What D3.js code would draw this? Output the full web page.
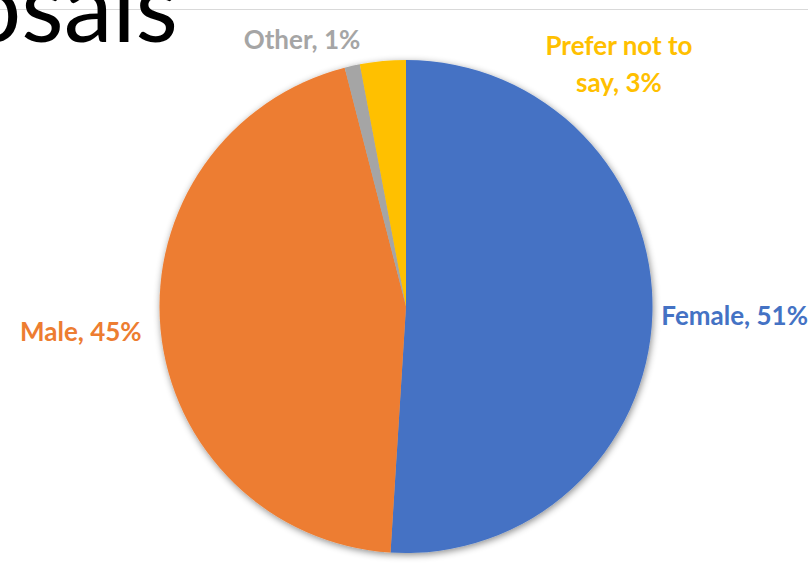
<!DOCTYPE html>
<html>
<head>
<meta charset="utf-8">
<script src="https://cdn.jsdelivr.net/npm/d3@7"></script>
<style>
  html, body { margin: 0; padding: 0; background: #fff; overflow: hidden; }
  svg { display: block; }
</style>
</head>
<body>
<div id="chart"></div>
<script>
// Data
const categories = ["Female", "Male", "Other", "Prefer not to say"];
const values = [51, 45, 1, 3];
const labelLines = [
  ["Female, 51%"],
  ["Male, 45%"],
  ["Other, 1%"],
  ["Prefer not to", "say, 3%"]
];
const titleText = "Proposals";

const colors = ["#4472C4", "#ED7D31", "#A5A5A5", "#FFC000"];

const fullWidth = 808;
const fullHeight = 577;
const cx = 406;
const cy = 306.5;
const radius = 246.5;

const svg = d3.select("#chart")
  .append("svg")
  .attr("width", fullWidth)
  .attr("height", fullHeight);

// Shadow
const defs = svg.append("defs");
const shadow = defs.append("filter")
  .attr("id", "pieShadow")
  .attr("x", "-10%").attr("y", "-10%")
  .attr("width", "120%").attr("height", "120%");
shadow.append("feDropShadow")
  .attr("dx", 1)
  .attr("dy", 2)
  .attr("stdDeviation", 3.5)
  .attr("flood-color", "#000")
  .attr("flood-opacity", 0.45);

// Slide rule line behind the title
svg.append("line")
  .attr("x1", 0).attr("x2", fullWidth)
  .attr("y1", 9.5).attr("y2", 9.5)
  .attr("stroke", "#d9d9d9")
  .attr("stroke-width", 1);

// Title (cut off at the left like the slide)
svg.append("text")
  .attr("x", 178)
  .attr("y", 42)
  .attr("text-anchor", "end")
  .style("font-family", "Lato, 'Open Sans', sans-serif")
  .style("font-weight", 400)
  .style("font-size", "98px")
  .style("fill", "#000")
  .text(titleText);

// Pie
const pie = d3.pie().sort(null).value(d => d);
const arcs = pie(values);

const arc = d3.arc().innerRadius(0).outerRadius(radius);

const g = svg.append("g")
  .attr("transform", `translate(${cx},${cy})`);

g.append("g")
  .attr("filter", "url(#pieShadow)")
  .selectAll("path")
  .data(arcs)
  .join("path")
  .attr("d", arc)
  .attr("fill", (d, i) => colors[i]);

// Labels: start from an outer arc, then nudge like the original best-fit layout
const labelArc = d3.arc().innerRadius(radius + 12).outerRadius(radius + 12);
const nudge = {
  "Female": { dx: -3, dy: 0, anchor: "start" },
  "Male": { dx: -7, dy: 0, anchor: "end" },
  "Other": { dx: 0, dy: 0, anchor: "middle" },
  "Prefer not to say": { dx: 0, dy: 0, anchor: "middle" }
};
const fixedSpots = {
  "Other": [302 - cx, 39 - cy],
  "Prefer not to say": [619 - cx, 45 - cy]
};

const lineHeight = 37;

arcs.forEach((d, i) => {
  const name = categories[i];
  let [x, y] = labelArc.centroid(d);
  if (fixedSpots[name]) [x, y] = fixedSpots[name];
  const n = nudge[name];
  const t = g.append("text")
    .attr("x", x + n.dx)
    .attr("y", y + n.dy)
    .attr("text-anchor", n.anchor)
    .attr("dominant-baseline", "central")
    .style("font-family", "Lato, 'Open Sans', sans-serif")
    .style("font-weight", 700)
    .style("font-size", "26px")
    .style("fill", colors[i]);
  labelLines[i].forEach((line, k) => {
    t.append("tspan")
      .attr("x", x + n.dx)
      .attr("dy", k === 0 ? 0 : lineHeight)
      .text(line);
  });
});
</script>
</body>
</html>
